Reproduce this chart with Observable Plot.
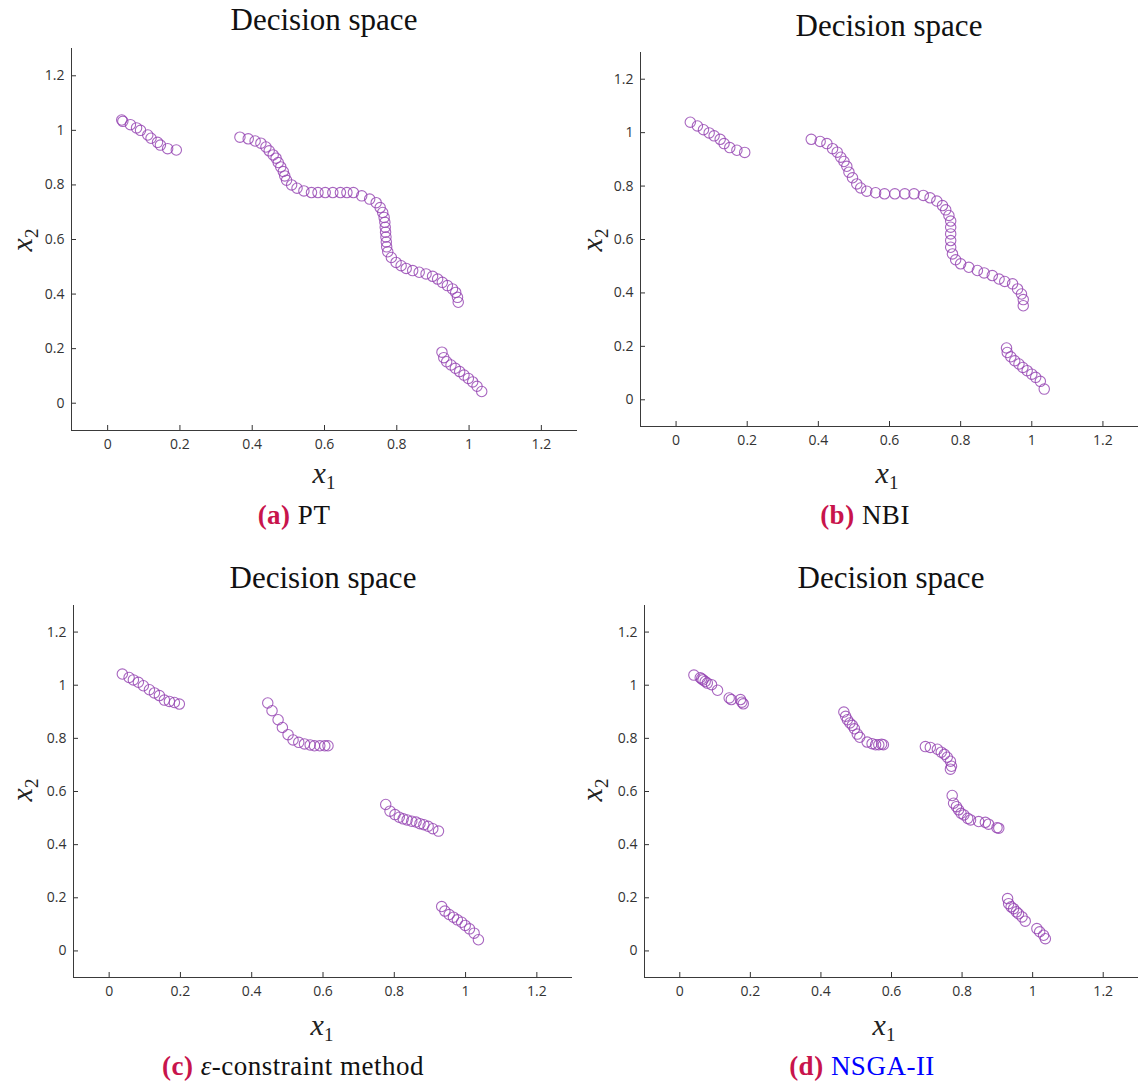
<!DOCTYPE html>
<html>
<head>
<meta charset="utf-8">
<script src="https://cdn.jsdelivr.net/npm/d3@7"></script>
<script src="https://cdn.jsdelivr.net/npm/@observablehq/plot@0.6"></script>
<style>
  html, body { margin: 0; padding: 0; background: #fff; }
  #root { position: relative; width: 1141px; height: 1084px; overflow: hidden; }
  .abs { position: absolute; white-space: nowrap; }
  .title { font-family: "Liberation Serif", serif; font-size: 31px; color: #111; transform: translate(-50%, -50%); }
  .xlab { font-family: "Liberation Serif", serif; font-size: 30px; line-height: 22px; color: #222; transform: translate(-50%, -50%); }
  .xlab sub, .ylab sub { font-style: normal; font-size: 19px; line-height: 0; vertical-align: -6px; }
  .ylab { font-family: "Liberation Serif", serif; font-size: 30px; line-height: 22px; color: #222; transform: translate(-50%, -50%) rotate(-90deg); }
  .cap { font-family: "Liberation Serif", serif; font-size: 27px; letter-spacing: 0.5px; color: #111; transform: translate(-50%, -50%); }
  .cap b { color: #C8144C; }
  .blue { color: #0000FF; }
</style>
</head>
<body>
<div id="root"></div>
<script>
// ---------------- data ----------------
const xTicks = [0, 0.2, 0.4, 0.6, 0.8, 1, 1.2];
const yTicks = [0, 0.2, 0.4, 0.6, 0.8, 1, 1.2];
const axisDomain = [-0.1, 1.3];

// (a) PT
const ptX = [0.039,0.042,0.063,0.080,0.091,0.111,0.120,0.138,0.146,0.166,0.190,
  0.366,0.389,0.408,0.424,0.438,0.447,0.458,0.466,0.472,0.479,0.486,0.490,0.495,0.509,0.524,0.543,0.564,0.582,0.602,0.623,0.644,0.662,
  0.680,0.703,0.725,0.743,0.754,0.761,0.765,0.767,0.768,0.769,0.770,0.771,0.772,0.775,0.785,0.798,0.812,0.826,0.844,0.862,0.881,0.899,0.913,0.926,0.940,0.954,0.963,0.968,0.970,
  0.925,0.930,0.938,0.950,0.962,0.974,0.986,0.998,1.010,1.022,1.035];
const ptY = [1.038,1.033,1.021,1.009,1.000,0.983,0.971,0.956,0.946,0.933,0.928,
  0.975,0.969,0.961,0.953,0.939,0.925,0.910,0.898,0.882,0.866,0.849,0.833,0.817,0.800,0.788,0.778,0.772,0.772,0.772,0.772,0.772,0.772,
  0.772,0.760,0.748,0.735,0.717,0.699,0.681,0.663,0.645,0.627,0.609,0.591,0.573,0.555,0.534,0.516,0.504,0.494,0.486,0.480,0.474,0.465,0.455,0.443,0.431,0.419,0.406,0.388,0.370,
  0.187,0.167,0.152,0.140,0.128,0.116,0.103,0.091,0.078,0.062,0.043];

// (b) NBI
const nbiX = [0.040,0.060,0.077,0.093,0.107,0.124,0.135,0.151,0.171,0.193,
  0.380,0.405,0.424,0.440,0.453,0.463,0.472,0.480,0.486,0.496,0.508,0.519,0.536,0.561,0.586,0.615,0.643,0.669,0.695,0.714,0.733,0.749,0.758,0.767,0.772,0.772,0.772,0.772,0.772,0.777,0.786,0.800,0.823,0.847,0.866,0.889,0.908,0.924,0.946,0.960,0.971,0.976,0.976,
  0.929,0.931,0.941,0.952,0.964,0.975,0.987,1.000,1.011,1.024,1.035];
const nbiY = [1.039,1.025,1.011,0.999,0.988,0.975,0.959,0.944,0.934,0.926,
  0.975,0.967,0.959,0.940,0.927,0.908,0.892,0.874,0.852,0.831,0.808,0.793,0.781,0.775,0.771,0.771,0.771,0.771,0.765,0.756,0.744,0.727,0.711,0.690,0.669,0.646,0.621,0.596,0.571,0.546,0.524,0.509,0.496,0.484,0.475,0.465,0.452,0.443,0.434,0.415,0.396,0.375,0.352,
  0.194,0.177,0.161,0.146,0.134,0.121,0.109,0.096,0.084,0.069,0.040];

// (c) epsilon-constraint
const ecX = [0.037,0.056,0.068,0.082,0.096,0.113,0.127,0.141,0.155,0.169,0.183,0.197,
  0.445,0.457,0.474,0.486,0.502,0.516,0.532,0.548,0.564,0.576,0.591,0.605,0.614,
  0.776,0.788,0.802,0.814,0.825,0.836,0.849,0.861,0.872,0.883,0.895,0.908,0.924,
  0.933,0.942,0.954,0.966,0.977,0.989,0.999,1.011,1.024,1.036];
const ecY = [1.042,1.029,1.020,1.011,0.998,0.983,0.971,0.961,0.944,0.939,0.935,0.929,
  0.933,0.904,0.870,0.841,0.814,0.794,0.785,0.779,0.775,0.772,0.772,0.772,0.772,
  0.551,0.526,0.513,0.503,0.497,0.493,0.488,0.485,0.479,0.475,0.469,0.460,0.451,
  0.167,0.150,0.137,0.127,0.117,0.108,0.096,0.083,0.067,0.042];

// (d) NSGA-II
const nsgaX = [0.040,0.058,0.062,0.066,0.072,0.078,0.090,0.107,0.140,0.146,0.172,0.176,0.180,
  0.465,0.470,0.475,0.482,0.489,0.495,0.503,0.510,0.531,0.545,0.555,0.564,0.572,0.577,
  0.696,0.710,0.730,0.741,0.750,0.758,0.767,0.770,0.767,
  0.772,0.776,0.784,0.790,0.797,0.805,0.816,0.824,0.847,0.866,0.875,0.899,0.904,
  0.929,0.932,0.939,0.946,0.954,0.960,0.970,0.979,1.012,1.020,1.031,1.036];
const nsgaY = [1.038,1.028,1.024,1.020,1.014,1.008,1.002,0.981,0.952,0.946,0.946,0.936,0.930,
  0.899,0.883,0.870,0.858,0.849,0.836,0.816,0.804,0.786,0.780,0.776,0.776,0.778,0.776,
  0.769,0.766,0.759,0.748,0.740,0.729,0.714,0.695,0.684,
  0.585,0.556,0.543,0.531,0.518,0.512,0.499,0.493,0.487,0.484,0.477,0.464,0.462,
  0.197,0.178,0.166,0.159,0.147,0.140,0.128,0.112,0.084,0.072,0.059,0.046];

// ---------------- layout ----------------
const panels = [
  {xs: ptX, ys: ptY, left: 0, top: 40, width: 582, height: 418, ml: 71, mr: 5, mt: 8, mb: 28,
   title: [324, 20], xlab: [324, 473], ylab: [22, 240], cap: [294, 515], capHtml: '<b>(a)</b> PT'},
  {xs: nbiX, ys: nbiY, left: 570, top: 44, width: 571, height: 410, ml: 70, mr: 3, mt: 8, mb: 28,
   title: [889, 26], xlab: [887, 473], ylab: [592, 240], cap: [865, 515], capHtml: '<b>(b)</b> NBI'},
  {xs: ecX, ys: ecY, left: 0, top: 597, width: 577, height: 408, ml: 73, mr: 5, mt: 8, mb: 28,
   title: [323, 578], xlab: [322, 1025], ylab: [22, 790], cap: [293, 1066], capHtml: '<b>(c)</b> <i>ε</i>-constraint method'},
  {xs: nsgaX, ys: nsgaY, left: 570, top: 597, width: 571, height: 408, ml: 74, mr: 3, mt: 8, mb: 28,
   title: [891, 578], xlab: [884, 1025], ylab: [592, 790], cap: [862, 1066], capHtml: '<b>(d)</b> <span class="blue">NSGA-II</span>'}
];

const root = document.getElementById("root");
const fmt = d3.format("~g");

function addDiv(cls, pos, html) {
  const d = document.createElement("div");
  d.className = "abs " + cls;
  d.style.left = pos[0] + "px";
  d.style.top = pos[1] + "px";
  d.innerHTML = html;
  root.appendChild(d);
}

for (const p of panels) {
  const data = p.xs.map((x, i) => ({x, y: p.ys[i]}));
  const svg = Plot.plot({
    width: p.width, height: p.height,
    marginLeft: p.ml, marginRight: p.mr, marginTop: p.mt, marginBottom: p.mb,
    style: {fontFamily: "'Open Sans', sans-serif", fontSize: "14px", color: "#333", background: "transparent", overflow: "visible"},
    x: {domain: axisDomain},
    y: {domain: axisDomain},
    marks: [
      Plot.axisX(xTicks, {tickSize: -5, tickPadding: 14, tickFormat: fmt, label: null}),
      Plot.axisY(yTicks, {tickSize: -5, tickPadding: 12, tickFormat: fmt, label: null}),
      Plot.ruleY([axisDomain[0]], {stroke: "#3a3a3a"}),
      Plot.ruleX([axisDomain[0]], {stroke: "#3a3a3a"}),
      Plot.dot(data, {x: "x", y: "y", r: 5.2, stroke: "#9240b0", strokeOpacity: 0.8, strokeWidth: 1.1, fill: "none"})
    ]
  });
  const wrap = document.createElement("div");
  wrap.className = "abs";
  wrap.style.left = p.left + "px";
  wrap.style.top = p.top + "px";
  wrap.appendChild(svg);
  root.appendChild(wrap);

  addDiv("title", p.title, "Decision space");
  addDiv("xlab", p.xlab, "<i>x</i><sub>1</sub>");
  addDiv("ylab", p.ylab, "<i>x</i><sub>2</sub>");
  addDiv("cap", p.cap, p.capHtml);
}
</script>
</body>
</html>
